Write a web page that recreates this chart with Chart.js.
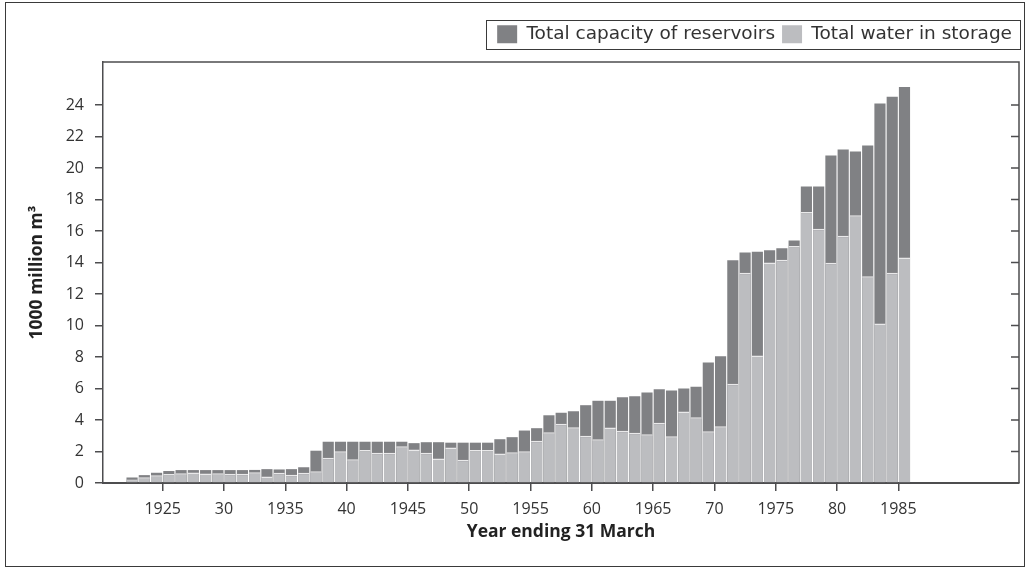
<!DOCTYPE html>
<html>
<head>
<meta charset="utf-8">
<script src="https://cdn.jsdelivr.net/npm/chart.js@4/dist/chart.umd.min.js"></script>
<style>
  html, body { margin: 0; padding: 0; background: #ffffff; }
  #wrap { width: 1030px; height: 568px; position: relative; }
</style>
</head>
<body>
<div id="wrap"><canvas id="c" width="1030" height="568"></canvas></div>
<script>
// Year (bar for year ending 31 March)
const years = [
  1922, 1923, 1924, 1925, 1926, 1927, 1928, 1929, 1930, 1931,
  1932, 1933, 1934, 1935, 1936, 1937, 1938, 1939, 1940, 1941,
  1942, 1943, 1944, 1945, 1946, 1947, 1948, 1949, 1950, 1951,
  1952, 1953, 1954, 1955, 1956, 1957, 1958, 1959, 1960, 1961,
  1962, 1963, 1964, 1965, 1966, 1967, 1968, 1969, 1970, 1971,
  1972, 1973, 1974, 1975, 1976, 1977, 1978, 1979, 1980, 1981,
  1982, 1983, 1984, 1985
];
// Total capacity of reservoirs (1000 million m3)
const capacity = [
  0.35, 0.50, 0.65, 0.76, 0.82, 0.82, 0.82, 0.82, 0.82, 0.82,
  0.83, 0.88, 0.86, 0.88, 1.00, 2.05, 2.62, 2.62, 2.62, 2.62,
  2.62, 2.62, 2.62, 2.53, 2.59, 2.59, 2.56, 2.56, 2.56, 2.56,
  2.78, 2.91, 3.33, 3.48, 4.30, 4.46, 4.56, 4.94, 5.22, 5.22,
  5.45, 5.51, 5.75, 5.95, 5.88, 6.00, 6.11, 7.65, 8.05, 14.15,
  14.63, 14.68, 14.78, 14.91, 15.40, 18.83, 18.83, 20.79, 21.17, 21.05,
  21.43, 24.10, 24.52, 25.15
];
// Total water in storage (1000 million m3)
const storage = [
  0.23, 0.36, 0.49, 0.57, 0.62, 0.66, 0.60, 0.62, 0.58, 0.58,
  0.68, 0.41, 0.65, 0.52, 0.65, 0.75, 1.60, 2.02, 1.50, 2.10,
  1.92, 1.92, 2.33, 2.13, 1.92, 1.55, 2.25, 1.47, 2.10, 2.10,
  1.87, 1.96, 2.02, 2.68, 3.23, 3.76, 3.54, 3.00, 2.78, 3.52,
  3.31, 3.19, 3.10, 3.82, 2.97, 4.54, 4.18, 3.29, 3.61, 6.30,
  13.35, 8.10, 14.00, 14.17, 15.04, 17.20, 16.14, 13.98, 15.70, 17.00,
  13.13, 10.13, 13.35, 14.32
];
const xTickYears = [1925, 1930, 1935, 1940, 1945, 1950, 1955, 1960, 1965, 1970, 1975, 1980, 1985];
const xTickLabels = ['1925', '30', '1935', '40', '1945', '50', '1955', '60', '1965', '70', '1975', '80', '1985'];
const yTickValues = [0, 2, 4, 6, 8, 10, 12, 14, 16, 18, 20, 22, 24];

const FONT = "'Open Sans', 'DejaVu Sans', sans-serif";
const LEGEND_FONT = "'DejaVu Sans', 'Open Sans', sans-serif";
const AXIS_COLOR = '#4d4d4f';
const DARK = '#808184';
const LIGHT = '#bcbdc0';

const pageFrame = {
  id: 'pageFrame',
  beforeDraw(chart) {
    const ctx = chart.ctx;
    ctx.save();
    ctx.fillStyle = '#ffffff';
    ctx.fillRect(0, 0, chart.width, chart.height);
    ctx.strokeStyle = '#3a3a3a';
    ctx.lineWidth = 1;
    ctx.strokeRect(5.5, 2.5, 1019, 564);
    ctx.restore();
  },
  afterInit(chart) {
    const lg = chart.legend;
    if (lg) {
      const proto = Object.getPrototypeOf(lg);
      lg.fit = function () {
        proto.fit.call(this);
        this.height = 44;
      };
    }
  },
  afterDraw(chart) {
    const ctx = chart.ctx;
    const ca = chart.chartArea;
    const ys = chart.scales.y;
    ctx.save();
    ctx.strokeStyle = AXIS_COLOR;
    ctx.lineWidth = 1.5;
    ctx.beginPath();
    ctx.moveTo(ca.left, ca.top);
    ctx.lineTo(ca.right, ca.top);
    ctx.lineTo(ca.right, ca.bottom);
    ys.ticks.forEach(t => {
      const py = ys.getPixelForValue(t.value);
      ctx.moveTo(ca.right - 8, py);
      ctx.lineTo(ca.right, py);
    });
    ctx.stroke();
    // legend frame
    const lg = chart.legend;
    if (lg && lg.legendHitBoxes && lg.legendHitBoxes.length) {
      const hb = lg.legendHitBoxes;
      const first = hb[0], last = hb[hb.length - 1];
      const x0 = Math.round(first.left - 11) + 0.5;
      const x1 = Math.round(last.left + last.width + 8) + 0.5;
      const y0 = Math.round(first.top - 5) + 0.5;
      const y1 = Math.round(first.top + first.height + 5) + 0.5;
      ctx.strokeStyle = '#3a3a3a';
      ctx.lineWidth = 1;
      ctx.strokeRect(x0, y0, x1 - x0, y1 - y0);
    }
    ctx.restore();
  }
};

new Chart(document.getElementById('c'), {
  type: 'bar',
  data: {
    datasets: [
      {
        label: 'Total capacity of reservoirs',
        data: years.map((yr, i) => ({ x: yr + 0.5, y: capacity[i] })),
        backgroundColor: DARK,
        borderWidth: 0,
        order: 2,
        grouped: false,
        categoryPercentage: 1,
        barPercentage: 0.91
      },
      {
        label: 'Total water in storage',
        data: years.map((yr, i) => ({ x: yr + 0.5, y: storage[i] })),
        backgroundColor: LIGHT,
        borderColor: '#e9e9ea',
        borderWidth: { top: 1.5, left: 0, right: 0, bottom: 0 },
        borderSkipped: 'bottom',
        order: 1,
        grouped: false,
        categoryPercentage: 1,
        barPercentage: 0.91
      }
    ]
  },
  options: {
    responsive: false,
    animation: false,
    events: [],
    layout: { padding: { top: 18, right: 11, left: 0, bottom: 0 } },
    plugins: {
      tooltip: { enabled: false },
      title: { display: false },
      legend: {
        display: true,
        position: 'top',
        align: 'end',
        labels: {
          font: { family: LEGEND_FONT, size: 18.5 },
          color: '#333333',
          boxWidth: 20,
          boxHeight: 18,
          padding: 7,
          generateLabels(chart) {
            return chart.data.datasets.map((ds, i) => ({
              text: ds.label,
              fillStyle: ds.backgroundColor,
              strokeStyle: ds.backgroundColor,
              lineWidth: 0,
              hidden: false,
              datasetIndex: i,
              fontColor: '#333333'
            }));
          }
        }
      }
    },
    scales: {
      x: {
        type: 'linear',
        offset: false,
        min: 1920.13,
        max: 1994.84,
        afterBuildTicks(scale) {
          scale.ticks = xTickYears.map(v => ({ value: v }));
        },
        afterFit(scale) { scale.height = 85; },
        ticks: {
          autoSkip: false,
          maxRotation: 0,
          padding: 9,
          color: '#333333',
          font: { family: FONT, size: 16 },
          callback(value, index) { return xTickLabels[index]; }
        },
        grid: {
          display: true,
          offset: false,
          drawOnChartArea: false,
          drawTicks: true,
          tickLength: 8,
          color: AXIS_COLOR,
          lineWidth: 1.5
        },
        border: { display: true, color: AXIS_COLOR, width: 2 },
        title: {
          display: true,
          text: 'Year ending 31 March',
          color: '#222222',
          font: { family: FONT, size: 17.5, weight: 'bold' },
          padding: { top: 0, bottom: 25 }
        }
      },
      y: {
        min: 0,
        max: 26.73,
        afterBuildTicks(scale) {
          scale.ticks = yTickValues.map(v => ({ value: v }));
        },
        afterFit(scale) { scale.width = 103; },
        ticks: {
          padding: 11,
          color: '#333333',
          font: { family: FONT, size: 16 }
        },
        grid: {
          display: true,
          drawOnChartArea: false,
          drawTicks: true,
          tickLength: 8,
          color: AXIS_COLOR,
          lineWidth: 1.5
        },
        border: { display: true, color: AXIS_COLOR, width: 1.5 },
        title: {
          display: true,
          text: '1000 million m³',
          color: '#222222',
          font: { family: FONT, size: 17.5, weight: 'bold' },
          padding: { top: 27, bottom: 0 }
        }
      }
    }
  },
  plugins: [pageFrame]
});
</script>
</body>
</html>
